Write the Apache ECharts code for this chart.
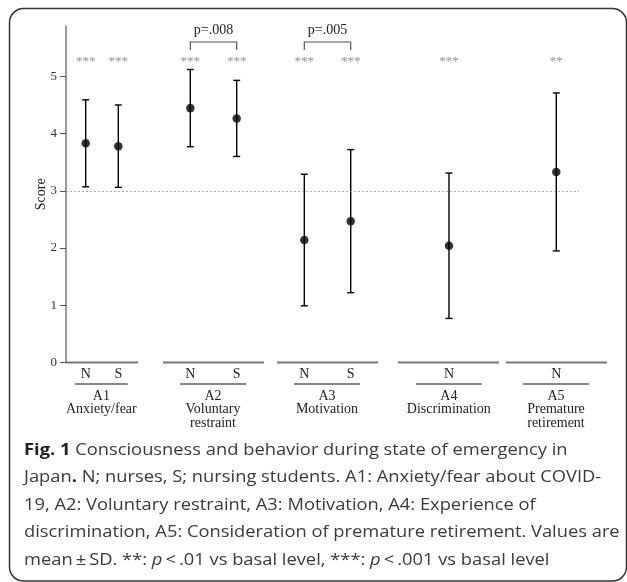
<!DOCTYPE html>
<html><head><meta charset="utf-8">
<script src="https://cdn.jsdelivr.net/npm/echarts@6/dist/echarts.min.js"></script>
<style>html,body{margin:0;padding:0;background:#fff}#c{width:627px;height:582px}</style>
</head><body><div id="c"></div>
<script>
// ---- data ----
const groups = ['A1', 'A2', 'A3', 'A4', 'A5'];
const groupNames = [['Anxiety/fear'], ['Voluntary', 'restraint'], ['Motivation'], ['Discrimination'], ['Premature', 'retirement']];
const pointGroup = [0, 0, 1, 1, 2, 2, 3, 4];
const pointLabels = ['N', 'S', 'N', 'S', 'N', 'S', 'N', 'N'];
const means = [3.83, 3.78, 4.445, 4.265, 2.14, 2.47, 2.04, 3.33];
const sds = [0.76, 0.72, 0.675, 0.665, 1.15, 1.25, 1.27, 1.38];
const stars = ['***', '***', '***', '***', '***', '***', '***', '**'];
const comparisons = [[2, 3, 'p=.008'], [4, 5, 'p=.005']];
const basal = 3;
const yTicks = [0, 1, 2, 3, 4, 5];

// ---- layout (x axis units) ----
const xPos = [19.7, 52.3, 124.3, 170.7, 238.3, 284.7, 383, 490.3];
const segs = [[0, 72], [97, 198], [211, 312], [332, 433], [440, 541]];
const underl = [[9, 61.7], [114, 180], [228, 294], [350, 415.7], [457, 523]];
const starY = 5.25, brTop = 5.6, brBot = 5.46, brText = 5.8;
const serif = 'Liberation Serif';

const chart = echarts.init(document.getElementById('c'));

const errData = means.map((m, i) => [xPos[i], m - sds[i], m + sds[i]]);
const meanData = means.map((m, i) => [xPos[i], m]);
const starData = stars.map((s, i) => [xPos[i], starY, s]);
const brData = comparisons.map(c => [xPos[c[0]], xPos[c[1]], c[2]]);
const segData = segs.map(s => [s[0], s[1]]);
const labData = groups.map((g, gi) => [underl[gi][0], underl[gi][1], gi]);

chart.setOption({
  animation: false,
  grid: { left: 66, right: 20, top: 26, bottom: 219.5 },
  xAxis: { type: 'value', min: 0, max: 541, show: false },
  yAxis: {
    type: 'value', min: 0, max: 5.88,
    name: 'Score', nameLocation: 'middle', nameGap: 18, nameMoveOverlap: false,
    nameTextStyle: { fontFamily: serif, fontSize: 14, color: '#222' },
    axisLine: { show: true, lineStyle: { color: '#777', width: 1.5 } },
    axisTick: { show: true, length: 6, customValues: yTicks, lineStyle: { color: '#555' } },
    axisLabel: { customValues: yTicks, fontFamily: serif, fontSize: 13, color: '#333', margin: 9 },
    splitLine: { show: false }
  },
  series: [
    { // basal level reference line
      type: 'line', data: [], silent: true,
      markLine: {
        symbol: 'none', silent: true, label: { show: false },
        lineStyle: { type: [2, 2], color: '#999', width: 0.8 },
        data: [[{ coord: [0, basal] }, { coord: [513, basal] }]]
      }
    },
    { // x axis segments
      type: 'custom', data: segData, silent: true,
      renderItem: (p, api) => {
        const a = api.coord([api.value(0), 0]), b = api.coord([api.value(1), 0]);
        return { type: 'line', shape: { x1: a[0], y1: a[1], x2: b[0], y2: b[1] }, style: { stroke: '#777', lineWidth: 2.2 } };
      }
    },
    { // group labels and underlines
      type: 'custom', data: labData, silent: true, clip: false,
      renderItem: (p, api) => {
        const gi = api.value(2);
        const a = api.coord([api.value(0), 0]), b = api.coord([api.value(1), 0]);
        const cx = (a[0] + b[0]) / 2;
        const ch = [
          { type: 'line', shape: { x1: a[0], y1: a[1] + 21.5, x2: b[0], y2: a[1] + 21.5 }, style: { stroke: '#111', lineWidth: 1 } },
          { type: 'text', style: { text: groups[gi] + '\n' + groupNames[gi].join('\n'), x: cx, y: a[1] + 27, align: 'center', verticalAlign: 'top', font: '14px ' + serif, lineHeight: 13.5, fill: '#222' } }
        ];
        pointLabels.forEach((l, i) => {
          if (pointGroup[i] === gi) {
            const q = api.coord([xPos[i], 0]);
            ch.push({ type: 'text', style: { text: l, x: q[0], y: q[1] + 11.5, align: 'center', verticalAlign: 'middle', font: '14px ' + serif, fill: '#222' } });
          }
        });
        return { type: 'group', children: ch };
      }
    },
    { // error bars
      type: 'custom', data: errData, silent: true,
      renderItem: (p, api) => {
        const lo = api.coord([api.value(0), api.value(1)]), hi = api.coord([api.value(0), api.value(2)]);
        const w = 3.5, st = { stroke: '#000', lineWidth: 1.4 };
        return { type: 'group', children: [
          { type: 'line', shape: { x1: lo[0], y1: lo[1], x2: hi[0], y2: hi[1] }, style: st },
          { type: 'line', shape: { x1: lo[0] - w, y1: lo[1], x2: lo[0] + w, y2: lo[1] }, style: st },
          { type: 'line', shape: { x1: hi[0] - w, y1: hi[1], x2: hi[0] + w, y2: hi[1] }, style: st }
        ] };
      }
    },
    { // means
      type: 'scatter', data: meanData, symbol: 'circle', symbolSize: 8.5, silent: true,
      itemStyle: { color: '#000' }
    },
    { // significance stars
      type: 'scatter', data: starData, symbolSize: 0, silent: true,
      label: { show: true, position: 'inside', formatter: p => p.data[2], fontFamily: serif, fontSize: 13, color: '#777' }
    },
    { // comparison brackets
      type: 'custom', data: brData, silent: true, clip: false,
      renderItem: (p, api) => {
        const a = api.coord([api.value(0), brTop]), b = api.coord([api.value(1), brTop]);
        const yb = api.coord([0, brBot])[1], yt = api.coord([0, brText])[1];
        const st = { stroke: '#555', lineWidth: 1.2, fill: null };
        return { type: 'group', children: [
          { type: 'polyline', shape: { points: [[a[0], yb], [a[0], a[1]], [b[0], b[1]], [b[0], yb]] }, style: st },
          { type: 'text', style: { text: brData[p.dataIndex][2], x: (a[0] + b[0]) / 2, y: yt, align: 'center', verticalAlign: 'middle', font: '14px ' + serif, fill: '#222' } }
        ] };
      }
    }
  ],
  graphic: [
    { type: 'rect', shape: { x: 9.5, y: 8.5, width: 617, height: 572.5, r: 14 }, style: { fill: null, stroke: '#333', lineWidth: 1.5 }, silent: true },
    {
      type: 'text', x: 24, y: 436.5, scaleX: 1.11, scaleY: 1, silent: true,
      style: {
        text: '{b|Fig. 1} Consciousness and behavior during state of emergency in\nJapan{b|.} N; nurses, S; nursing students. A1: Anxiety/fear about COVID-\n19, A2: Voluntary restraint, A3: Motivation, A4: Experience of\ndiscrimination, A5: Consideration of premature retirement. Values are\nmean\u2009\u00b1\u2009SD. **: {i|p}\u2009<\u2009.01 vs basal level, ***: {i|p}\u2009<\u2009.001 vs basal level',
        x: 0, y: 0, verticalAlign: 'top',
        font: '16.5px "Open Sans"', fill: '#3a3a3a', lineHeight: 27.5,
        rich: {
          b: { fontFamily: 'Open Sans', fontSize: 16.5, fontWeight: 'bold', fill: '#222', lineHeight: 27.5 },
          i: { fontFamily: 'Open Sans', fontSize: 16.5, fontStyle: 'italic', fill: '#3a3a3a', lineHeight: 27.5 }
        }
      }
    }
  ]
});
</script></body></html>
